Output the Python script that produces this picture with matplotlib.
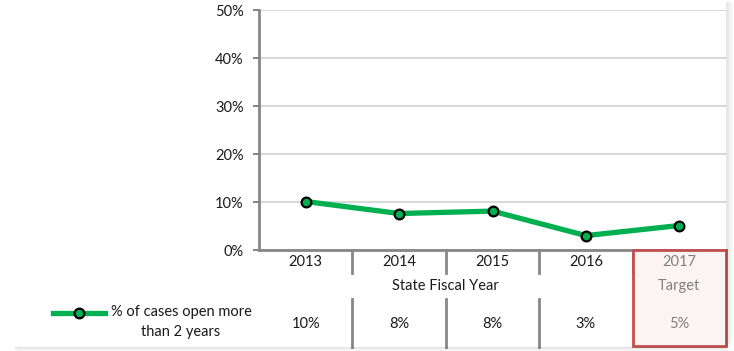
import matplotlib.pyplot as plt
import matplotlib.patches as mpatches
from matplotlib.lines import Line2D

plt.rcParams['font.family'] = ['Lato', 'DejaVu Sans']

years = ["2013", "2014", "2015", "2016", "2017"]
pct_open = [10.1, 7.6, 8.1, 3.0, 5.1]
table_vals = ["10%", "8%", "8%", "3%", "5%"]
y_ticks = [0, 10, 20, 30, 40, 50]
series_label = "% of cases open more\nthan 2 years"

W, H = 734, 351
fig = plt.figure(figsize=(W / 100, H / 100), dpi=100)
fig.patch.set_facecolor("white")
FS = 10.5
TXT = "#1a1a1a"

# panel shadow on right and bottom
for i in range(7):
    a = 0.10 - i * 0.013
    fig.add_artist(mpatches.Rectangle(((726 + i) / W, (H - 347 + i) / H), 1 / W, (345 - i) / H,
                                      transform=fig.transFigure, color="black", alpha=a, lw=0))
for i in range(4):
    a = 0.10 - i * 0.022
    fig.add_artist(mpatches.Rectangle(((14 + i) / W, (H - 348 - i) / H), (712) / W, 1 / H,
                                      transform=fig.transFigure, color="black", alpha=a, lw=0))

x0, x1, ytop, ybot = 259, 726, 10, 250
ax = fig.add_axes([x0 / W, (H - ybot) / H, (x1 - x0) / W, (ybot - ytop) / H])
ax.set_xlim(-0.5, 4.5)
ax.set_ylim(0, 50)

ax.set_yticks(y_ticks)
ax.set_yticklabels([f"{v}%" for v in y_ticks], fontsize=FS, color=TXT)
ax.tick_params(axis="y", length=4, width=1.5, color="#878787", pad=7)
ax.set_xticks([])
ax.grid(axis="y", color="#d9d9d9", lw=1.5)
ax.set_axisbelow(True)
for s in ["top", "right"]:
    ax.spines[s].set_visible(False)
for s in ["left", "bottom"]:
    ax.spines[s].set_color("#878787")
    ax.spines[s].set_linewidth(2)

x = list(range(len(years)))
ax.plot(x, pct_open, color="#00b050", lw=3.8, marker="o", ms=7,
        mfc="#00b050", mec="black", mew=1.6, zorder=5, clip_on=False)

# data table under the axis
tr = ax.get_xaxis_transform()
ph = ybot - ytop
def ay(p):
    return (ybot - p) / ph

ax.add_patch(mpatches.Rectangle((3.5, ay(346)), 1.0, ay(250) - ay(346), transform=tr,
                                facecolor="#fbf4f2", edgecolor="#c0504d", lw=2,
                                clip_on=False, zorder=6))
for sx in [0.5, 1.5, 2.5]:
    ax.plot([sx, sx], [0, ay(273)], transform=tr, color="#878787", lw=2, clip_on=False)
    ax.plot([sx, sx], [ay(299), ay(347)], transform=tr, color="#878787", lw=2, clip_on=False)
ax.plot([3.5, 3.5], [0, ay(273)], transform=tr, color="#878787", lw=2, clip_on=False)

for i, (yr, v) in enumerate(zip(years, table_vals)):
    c = "#7f7f7f" if i == 4 else TXT
    ax.text(i, ay(262), yr, transform=tr, ha="center", va="center", fontsize=FS,
            color=c, zorder=7)
    ax.text(i, ay(324), v, transform=tr, ha="center", va="center", fontsize=FS,
            color=c, zorder=7)
ax.text(1.5, ay(286), "State Fiscal Year", transform=tr, ha="center", va="center",
        fontsize=FS, color=TXT)
ax.text(4, ay(286), "Target", transform=tr, ha="center", va="center", fontsize=FS,
        color="#7f7f7f", zorder=7)

# legend key
fig.add_artist(Line2D([53 / W, 105 / W], [(H - 313) / H] * 2, transform=fig.transFigure,
                      color="#00b050", lw=3.8))
fig.add_artist(Line2D([79 / W], [(H - 313) / H], transform=fig.transFigure, marker="o",
                      ms=7, mfc="#00b050", mec="black", mew=1.6))
fig.text(181 / W, (H - 322) / H, series_label, ha="center", va="center",
         multialignment="center", fontsize=FS, color=TXT, linespacing=1.55)

fig.savefig("out.png", dpi=100)
